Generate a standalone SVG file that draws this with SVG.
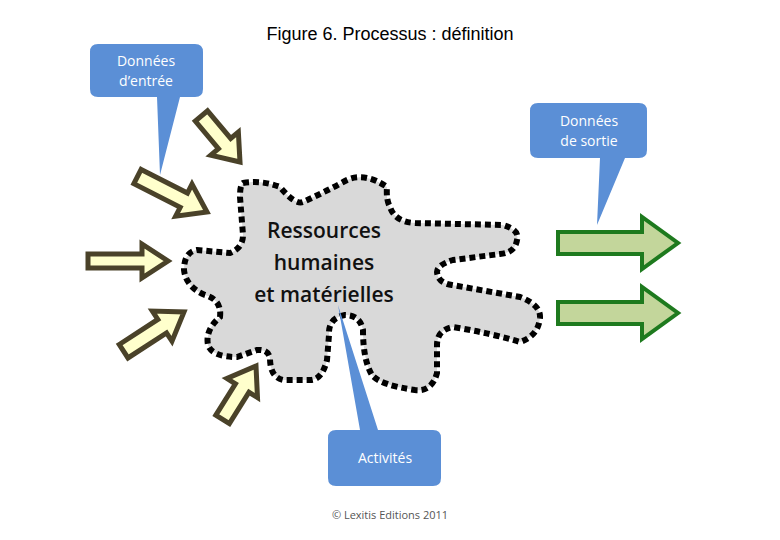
<svg xmlns="http://www.w3.org/2000/svg" width="780" height="540" viewBox="0 0 780 540">
<style>
.ya{fill:#FFFFCC;stroke:#4A4229;stroke-width:5;stroke-linejoin:miter}
.ga{fill:#C3D69B;stroke:#1E7A1E;stroke-width:4}
.co{fill:#5B8FD6}
.ct{font-family:"Open Sans","Liberation Sans",sans-serif;font-size:14px;fill:#fff;text-anchor:middle}
.os{font-family:"Open Sans","Liberation Sans",sans-serif}
</style>
<rect width="780" height="540" fill="#fff"/>
<text x="390" y="40" font-family="Liberation Sans,Arial,sans-serif" font-size="18" text-anchor="middle" fill="#000">Figure 6. Processus : définition</text>
<g id="blob">
<path d="M243,183 Q262,180 280,187 Q295,205 303,202 Q325,192 347,180 Q365,172 387,187 Q386,200 390,207 Q395,222 415,223 L503,225 Q520,230 517,240 Q515,253 500,254 L453,260 Q437,265 437,272 Q438,283 452,285 L520,297 Q541,305 540,318 Q538,336 520,342 Q490,333 453,327 Q437,330 437,345 L437,373 Q432,392 415,390 Q380,385 372,375 Q363,360 363,330 Q360,315 345,315 Q328,318 329,335 L327,360 Q322,380 310,380 L283,380 Q270,377 270,358 Q268,349 257,350 L237,357 Q212,357 208,345 Q205,330 220,317 Q222,300 205,295 Q186,287 184,270 Q184,252 197,250 L230,253 Q243,248 243,235 L240,197 Q240,185 243,183 Z" fill="#D9D9D9" stroke="#000" stroke-width="6" stroke-dasharray="6 4"/>
<text class="os" font-size="21" font-weight="600" text-anchor="middle" fill="#111"><tspan x="324" y="238">Ressources</tspan><tspan x="324" y="270">humaines</tspan><tspan x="324" y="302">et matérielles</tspan></text>
</g>
<g id="connectors">
<path class="ya" transform="translate(240,162) rotate(50)" d="M-60,-8 L-24,-8 L-24,-18 L0,0 L-24,18 L-24,8 L-60,8 Z"/>
<path class="ya" transform="translate(207,212) rotate(27)" d="M-78,-8 L-26,-8 L-26,-18 L0,0 L-26,18 L-26,8 L-78,8 Z"/>
<path class="ya" transform="translate(168,261)" d="M-80,-7 L-26,-7 L-26,-17 L0,0 L-26,17 L-26,7 L-80,7 Z"/>
<path class="ya" transform="translate(184,312) rotate(-33)" d="M-72,-8 L-26,-8 L-26,-18 L0,0 L-26,18 L-26,8 L-72,8 Z"/>
<path class="ya" transform="translate(256,366) rotate(-58)" d="M-63,-8 L-26,-8 L-26,-18 L0,0 L-26,18 L-26,8 L-63,8 Z"/>
<path class="ga" transform="translate(678,243)" d="M-120,-11 L-36,-11 L-36,-26 L0,0 L-36,26 L-36,11 L-120,11 Z"/>
<path class="ga" transform="translate(678,313)" d="M-120,-11 L-36,-11 L-36,-26 L0,0 L-36,26 L-36,11 L-120,11 Z"/>
</g>
<g id="callout-entree">
<path class="co" d="M98,44 H195 Q203,44 203,52 V89 Q203,97 195,97 H180 L160,175 L157,97 H98 Q90,97 90,89 V52 Q90,44 98,44 Z"/>
<text class="ct"><tspan x="146" y="66">Données</tspan><tspan x="146" y="86">d’entrée</tspan></text>
</g>
<g id="callout-sortie">
<path class="co" d="M538,103 H639 Q647,103 647,111 V150 Q647,158 639,158 H625 L597,225 L600,158 H538 Q530,158 530,150 V111 Q530,103 538,103 Z"/>
<text class="ct"><tspan x="589" y="126">Données</tspan><tspan x="589" y="146">de sortie</tspan></text>
</g>
<g id="callout-activites">
<path class="co" d="M336,430 H360 L338,305 L378,430 H433 Q441,430 441,438 V478 Q441,486 433,486 H336 Q328,486 328,478 V438 Q328,430 336,430 Z"/>
<text class="ct" x="385" y="463">Activités</text>
</g>
<text class="os" x="390" y="519" font-size="11" fill="#555" text-anchor="middle">© Lexitis Editions 2011</text>
</svg>
